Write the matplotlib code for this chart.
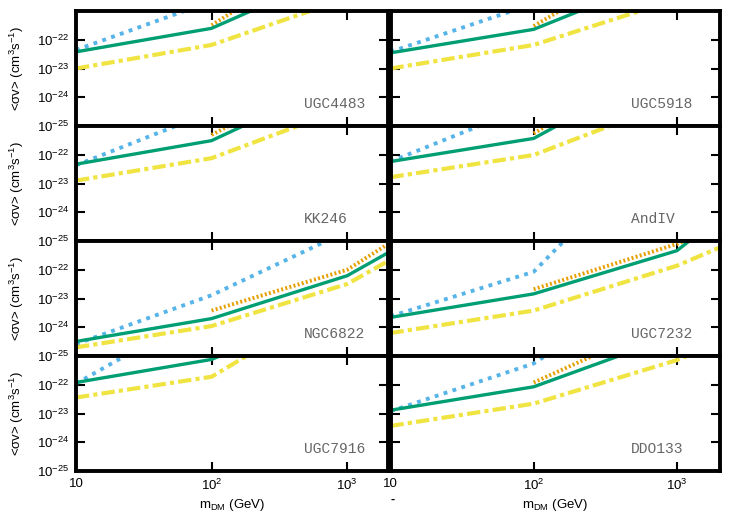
import matplotlib
matplotlib.use('Agg')
import matplotlib.pyplot as plt
from matplotlib.ticker import NullLocator

plt.rcParams['font.family'] = ['Liberation Sans', 'DejaVu Sans']
plt.rcParams['mathtext.default'] = 'regular'

# DM mass grid (GeV)
mass = [10, 100, 1000, 2000]
mass_hi = [100, 1000, 2000]

galaxies = ['UGC4483', 'UGC5918', 'KK246', 'AndIV',
            'NGC6822', 'UGC7232', 'UGC7916', 'DDO133']

# <sigma v> limits, one row per galaxy
blue_vals = [
    [4.4e-23, 2.2e-21, 1e-19, 3e-19],
    [3.8e-23, 1.8e-21, 1e-19, 3e-19],
    [4.3e-23, 3.1e-21, 1e-19, 3e-19],
    [5.8e-23, 5.8e-21, 3e-19, 1e-18],
    [2.6e-25, 1.3e-23, 2.2e-21, 1e-20],
    [2.4e-24, 8.5e-23, 1e-17, 5e-17],
    [1.1e-22, 5e-20, 1e-17, 5e-17],
    [1.2e-23, 5.5e-22, 1e-18, 5e-18],
]
green_vals = [
    [3.8e-23, 2.5e-22, 3e-20, 1e-19],
    [3.5e-23, 2.3e-22, 2.3e-20, 8e-20],
    [4.7e-23, 3.1e-22, 4.9e-20, 1.5e-19],
    [5.8e-23, 3.7e-22, 1.9e-19, 6e-19],
    [3.2e-25, 2.0e-24, 6.2e-23, 3.9e-22],
    [2.2e-24, 1.45e-23, 4.6e-22, 7e-21],
    [1.2e-22, 7.6e-22, 7.6e-20, 3e-19],
    [1.3e-23, 8.5e-23, 5.4e-21, 2e-20],
]
orange_vals = [
    [3.2e-22, 3e-19, 1e-18],
    [3.0e-22, 2.4e-19, 8e-19],
    [4.9e-22, 1.5e-19, 5e-19],
    [5.5e-22, 5.5e-19, 2e-18],
    [3.8e-24, 1.0e-22, 7.8e-22],
    [2.1e-23, 7.9e-22, 3e-21],
    [1.2e-21, 1e-18, 3e-18],
    [1.2e-22, 2.1e-20, 7e-20],
]
yellow_vals = [
    [1.0e-23, 6.6e-23, 2.8e-21, 1e-20],
    [1.0e-23, 6.6e-23, 2.6e-21, 1e-20],
    [1.26e-23, 7.6e-23, 4.4e-21, 1.5e-20],
    [1.66e-23, 9.8e-23, 7.9e-21, 3e-20],
    [2.0e-25, 1.1e-24, 3.2e-23, 2.0e-22],
    [6.3e-25, 3.8e-24, 1.38e-22, 6.0e-22],
    [3.6e-23, 1.9e-22, 1.2e-19, 5e-19],
    [3.7e-24, 2.2e-23, 7.2e-22, 3e-21],
]

xticks = [10, 100, 1000]
xticklabels = ['10', '10$^2$', '10$^3$']
yticks = [1e-25, 1e-24, 1e-23, 1e-22]
yticklabels = ['10$^{-25}$', '10$^{-24}$', '10$^{-23}$', '10$^{-22}$']

fig = plt.figure(figsize=(7.5, 5.25), dpi=100)

W, H = 750.0, 525.0
col_x = [(76, 388), (390.5, 720)]
row_top = [11, 126, 241, 356]
row_h = 115

for i, name in enumerate(galaxies):
    r, c = divmod(i, 2)
    x0, x1 = col_x[c]
    ax = fig.add_axes([x0 / W, 1 - (row_top[r] + row_h) / H,
                       (x1 - x0) / W, row_h / H])
    ax.set_xscale('log')
    ax.set_yscale('log')
    ax.set_xlim(10, 2000)
    ax.set_ylim(1e-25, 1e-21)

    ax.plot(mass, blue_vals[i], color='#56B4E9', lw=2.8,
            dashes=(1, 1.4), dash_capstyle='butt')
    ax.plot(mass_hi, orange_vals[i], color='#E69F00', lw=2.8,
            dashes=(0.5, 0.6), dash_capstyle='butt')
    ax.plot(mass, green_vals[i], color='#009E73', lw=2.4)
    ax.plot(mass, yellow_vals[i], color='#F0E442', lw=3.0,
            dashes=(3.2, 1.0, 1.0, 1.0), dash_capstyle='butt')

    ax.text(0.73, 0.155, name, transform=ax.transAxes, ha='left',
            va='baseline', family='Liberation Mono', fontsize=10.5,
            color='#666666')

    ax.xaxis.set_minor_locator(NullLocator())
    ax.yaxis.set_minor_locator(NullLocator())
    ax.set_xticks(xticks)
    ax.set_yticks(yticks)
    ax.tick_params(which='both', direction='in', top=True, right=True,
                   length=6.5, width=1.5, labelsize=9.5, pad=5)
    for s in ax.spines.values():
        s.set_linewidth(2.8)

    if c == 0:
        ax.set_yticklabels(yticklabels)
        fig.text(17 / W, 1 - (row_top[r] + row_h / 2) / H,
                 '<σv> (cm$^3$s$^{-1}$)', rotation=90,
                 ha='center', va='center', fontsize=9.5)
    else:
        ax.set_yticklabels([])

    if r == 3:
        ax.set_xticklabels(xticklabels)
        ax.set_xlabel('m$_{DM}$ (GeV)', fontsize=9.5, labelpad=3)
    else:
        ax.set_xticklabels([])

# stray mark under the right panel's first tick label
fig.text(393 / W, 1 - 500 / H, '-', ha='center', va='center',
         fontsize=9, fontweight='bold')

fig.savefig('out.png', dpi=100, facecolor='white')
